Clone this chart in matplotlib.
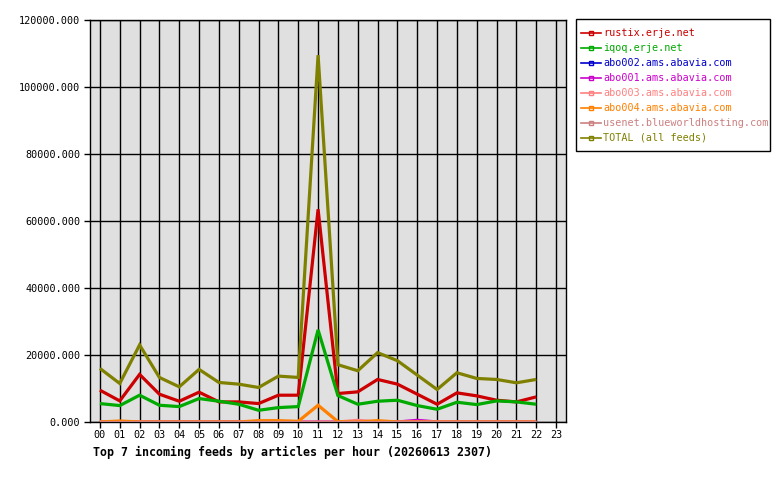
import matplotlib
matplotlib.use('Agg')
import matplotlib.pyplot as plt
from matplotlib.lines import Line2D
from matplotlib.patches import Rectangle

# ---------------- data ----------------
hours = [f"{h:02d}" for h in range(24)]

rustix = [9500, 6300, 14200, 8300, 6200, 8900, 6000, 6000, 5500, 8000, 8000, 63500,
          8500, 9000, 12700, 11300, 8300, 5300, 8700, 7800, 6500, 6000, 7500]
iqoq = [5500, 4900, 8000, 5000, 4600, 7000, 6200, 5300, 3500, 4300, 4600, 27500,
        7900, 5300, 6200, 6500, 4900, 3800, 5900, 5200, 6300, 6000, 5300]
abo002 = [0] * 23
abo001 = [0, 0, 0, 0, 0, 0, 0, 0, 0, 0, 0, 0,
          0, 0, 0, 0, 500, 0, 0, 0, 0, 0, 0]
abo003 = [0, 0, 0, 0, 0, 0, 0, 0, 0, 0, 0, 0,
          0, 500, 0, 0, 0, 0, 0, 0, 0, 0, 0]
abo004 = [0, 300, 0, 0, 0, 0, 0, 0, 400, 400, 200, 5000,
          100, 0, 400, 0, 0, 0, 0, 0, 0, 0, 0]
usenet = [0] * 23
total = [16000, 11500, 23000, 13300, 10500, 15700, 11800, 11300, 10300, 13700, 13300, 109500,
         17100, 15300, 20700, 18300, 14000, 9700, 14700, 13000, 12700, 11700, 12700]

labels = ["rustix.erje.net", "iqoq.erje.net", "abo002.ams.abavia.com",
          "abo001.ams.abavia.com", "abo003.ams.abavia.com", "abo004.ams.abavia.com",
          "usenet.blueworldhosting.com", "TOTAL (all feeds)"]
series = [rustix, iqoq, abo002, abo001, abo003, abo004, usenet, total]
colors = ["#cc0000", "#00aa00", "#0000cc", "#cc00cc", "#ff8080", "#ff8000",
          "#cc8080", "#808000"]
title = "Top 7 incoming feeds by articles per hour (20260613 2307)"
yticks = [0, 20000, 40000, 60000, 80000, 100000, 120000]

# ---------------- figure ----------------
W, H = 780, 480
fig = plt.figure(figsize=(W / 100, H / 100), dpi=100)
mono = "DejaVu Sans Mono"

L, R, T, B = 90, 566, 20, 422
ax = fig.add_axes([L / W, 1 - B / H, (R - L) / W, (B - T) / H])
ax.set_facecolor("#e0e0e0")

for s, c in zip(series, colors):
    ax.plot(range(len(s)), s, color=c, lw=2.3, solid_joinstyle='miter',
            solid_capstyle='butt', zorder=3)

ax.set_xlim(-0.5, 23.5)
ax.set_ylim(0, 120000)
ax.set_xticks(range(24))
ax.set_xticklabels(hours, fontfamily=mono, fontsize=7.3)
ax.set_yticks(yticks)
ax.set_yticklabels([f"{v:.3f}" for v in yticks], fontfamily=mono, fontsize=7.3)
ax.tick_params(axis='both', direction='out', length=4, width=1, color='black')
ax.tick_params(axis='x', pad=2)
ax.tick_params(axis='y', pad=3)
ax.grid(True, color='black', lw=1, zorder=1)
ax.set_axisbelow(True)
for sp in ax.spines.values():
    sp.set_color('black')
    sp.set_linewidth(1)

fig.text(93 / W, 1 - 452 / H, title, fontfamily=mono, fontweight='bold',
         fontsize=8.4, ha='left', va='center')

# ---------------- legend (manual) ----------------
lx0, ly0, lx1, ly1 = 576, 19, 770, 151
fig.patches.append(Rectangle((lx0 / W, 1 - ly1 / H), (lx1 - lx0) / W, (ly1 - ly0) / H,
                             transform=fig.transFigure, facecolor='white',
                             edgecolor='black', lw=1))
for i, (lab, c) in enumerate(zip(labels, colors)):
    y = 33 + 15 * i
    fy = 1 - y / H
    fig.lines.append(Line2D([581 / W, 601 / W], [fy, fy], transform=fig.transFigure,
                            color=c, lw=1.2))
    fig.lines.append(Line2D([591 / W], [fy], transform=fig.transFigure, color=c,
                            marker='s', markersize=3, markerfacecolor='none',
                            markeredgewidth=1, lw=0))
    fig.text(603 / W, fy, lab, color=c, fontfamily=mono, fontsize=7.3,
             ha='left', va='center')

fig.savefig("out.png", dpi=100)
